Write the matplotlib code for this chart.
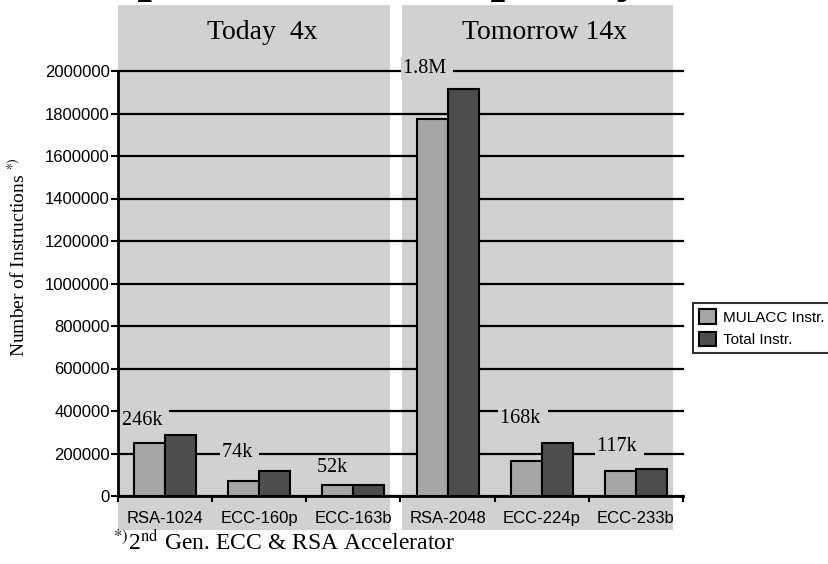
import matplotlib.pyplot as plt
from matplotlib.patches import Rectangle
import numpy as np

plt.rcParams['mathtext.fontset'] = 'stix'

# data
categories = ['RSA-1024', 'ECC-160p', 'ECC-163b', 'RSA-2048', 'ECC-224p', 'ECC-233b']
mulacc = [249000, 71000, 52000, 1773000, 166000, 118000]
total = [287000, 119000, 53000, 1914000, 251000, 127000]
value_labels = ['246k', '74k', '52k', '1.8M', '168k', '117k']
yticks = np.arange(0, 2000001, 200000)

# where the value labels sit (data coords)
label_pos = [(-0.46, 357000), (0.60, 207000), (1.61, 136000),
             (2.53, 2014000), (3.56, 367000), (4.59, 231000)]

W, H = 829, 564
def fx(px):
    return px / W
def fy(py):
    return 1 - py / H

serif = 'Liberation Serif'
sans = 'Liberation Sans'
panel = '#d1d1d1'
light = '#a6a6a6'
dark = '#4d4d4d'

fig = plt.figure(figsize=(W / 100, H / 100), dpi=100)
ax = fig.add_axes([fx(118), fy(496), (683 - 118) / W, (496 - 71) / H])
ax.set_facecolor('none')

# grey panels behind the chart
for x0, x1 in [(118, 390), (402, 673)]:
    fig.add_artist(Rectangle((fx(x0), fy(530)), (x1 - x0) / W, (530 - 5) / H,
                             transform=fig.transFigure, fc=panel, ec='none', zorder=-1))

x = np.arange(len(categories))
w = 0.33
ax.bar(x - w / 2, mulacc, w, color=light, edgecolor='black', lw=1.5, label='MULACC Instr.', zorder=2)
ax.bar(x + w / 2, total, w, color=dark, edgecolor='black', lw=1.5, label='Total Instr.', zorder=2)

ax.set_xlim(-0.5, 5.5)
ax.set_ylim(0, 2000000)
ax.set_yticks(yticks)
ax.set_yticklabels([str(v) for v in yticks])
ax.set_xticks(x)
ax.set_xticklabels(categories)
ax.set_xticks(np.arange(-0.5, 6, 1), minor=True)
ax.tick_params(axis='x', which='major', length=0, pad=11, labelsize=12)
ax.tick_params(axis='x', which='minor', length=4, width=1.5, direction='out')
ax.tick_params(axis='y', length=5, width=1.5, pad=1, labelsize=12)
for t in ax.get_xticklabels() + ax.get_yticklabels():
    t.set_fontfamily(sans)

ax.yaxis.grid(True, color='black', lw=1.6)
for gl in ax.get_ygridlines():
    gl.set_clip_on(False)
ax.set_axisbelow(True)
for s in ['top', 'right']:
    ax.spines[s].set_visible(False)
for s in ['left', 'bottom']:
    ax.spines[s].set_linewidth(2)

# value labels with grey background over the grid lines
for lab, (lx, ly) in zip(value_labels, label_pos):
    ax.text(lx, ly, lab + ' ', fontsize=14.5, family=serif, ha='left', va='center',
            bbox=dict(fc=panel, ec='none', pad=1.5), zorder=3)

# texts
fig.text(fx(29), 1 + 9 / H, 'Computational Complexity', fontsize=38, fontweight='bold',
         family=serif, ha='left', va='baseline')
fig.text(fx(262), fy(39), 'Today  4x', fontsize=20, family=serif, ha='center', va='baseline')
fig.text(fx(545), fy(39), 'Tomorrow 14x', fontsize=20, family=serif, ha='center', va='baseline')
fig.text(fx(18), fy(357), 'Number of Instructions $^{*)}$', rotation=90, fontsize=14,
         family=serif, ha='center', va='bottom')
fig.text(fx(113), fy(550), r'$^{*)}$2$^{\mathrm{nd}}$ Gen. ECC & RSA Accelerator',
         fontsize=17, family=serif, ha='left', va='baseline')

leg = fig.legend(loc='upper left', bbox_to_anchor=(fx(693), fy(303)),
                 prop={'family': sans, 'size': 11}, fancybox=False, edgecolor='black',
                 handlelength=1.1, handleheight=1.1, handletextpad=0.45,
                 borderpad=0.4, labelspacing=0.45, borderaxespad=0)
leg.get_frame().set_linewidth(1.5)

plt.savefig('out.png', dpi=100)
